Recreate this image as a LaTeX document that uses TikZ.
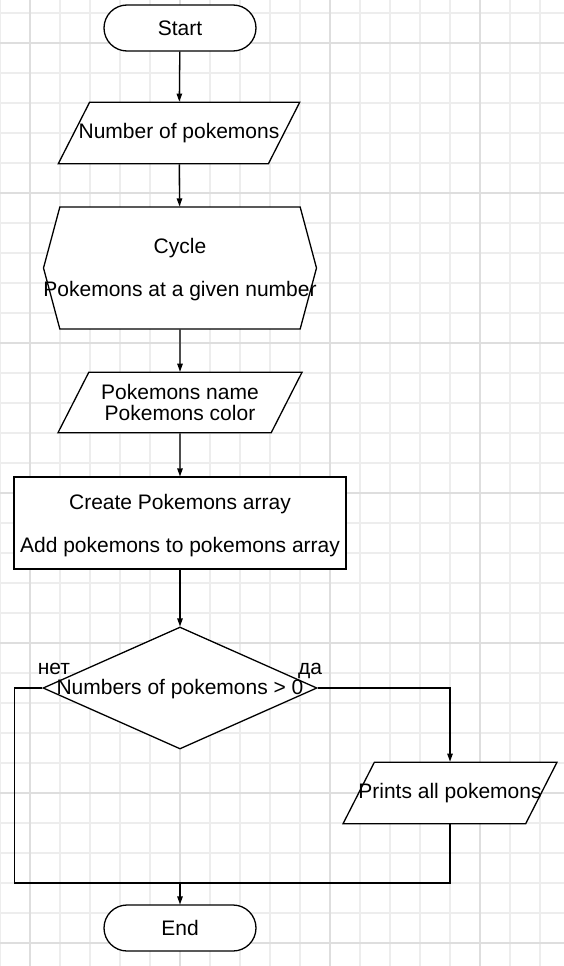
\documentclass[tikz,border=0pt]{standalone}
\usepackage{fontspec}
\setmainfont{Liberation Sans}
\usetikzlibrary{shapes,arrows.meta,positioning,calc}

\tikzset{
    gridminor/.style={line width=1.2pt, color=black!7},
    gridmajor/.style={line width=1.2pt, color=black!13},
    terminal/.style={draw, fill=white, line width=1.3pt, rounded corners=23pt,
        minimum width=152pt, minimum height=46pt, inner sep=0pt},
    io/.style={draw, fill=white, line width=1.3pt, shape=trapezium,
        trapezium left angle=63, trapezium right angle=117,
        trapezium stretches body=true, inner xsep=0pt, inner ysep=21pt},
    loopbox/.style={draw, fill=white, line width=1.3pt, shape=signal,
        signal to=west and east, signal pointer angle=150,
        minimum width=273pt, minimum height=122pt, inner sep=0pt},
    process/.style={draw, fill=white, line width=1.3pt, rectangle,
        minimum width=332pt, minimum height=92pt, inner sep=0pt, align=center},
    decision/.style={draw, fill=white, line width=1.3pt, diamond,
        minimum width=274pt, minimum height=122pt, inner sep=0pt},
    flow/.style={line width=1.3pt},
    arr/.style={flow, -{Triangle[length=8pt,width=5.5pt]}}
}

\begin{document}
\begin{tikzpicture}[x=1pt, y=-1pt, font=\fontsize{21}{21}\selectfont]
    % Background and grid
    \useasboundingbox (0,0) rectangle (564,966);
    \fill[white] (0,0) rectangle (564,966);
    \foreach \x in {0,30,...,540}
        \draw[gridminor] (\x,0) -- (\x,966);
    \foreach \y in {13,43,...,943}
        \draw[gridminor] (0,\y) -- (564,\y);
    \foreach \x in {30,180,330,480}
        \draw[gridmajor] (\x,0) -- (\x,966);
    \foreach \y in {43,193,...,943}
        \draw[gridmajor] (0,\y) -- (564,\y);

    % Blocks
    \node[terminal] (start) at (180,28) {Start};
    \node[io, inner xsep=-11pt] (count) at (179,133) {Number of pokemons};
    \node[loopbox] (cycle) at (180,268) {};
    \node[align=center] (cycle-text) at (180,269.5) {Cycle\\[22pt]Pokemons at a given number};
    \node[io, minimum width=244pt, inner ysep=12pt, align=center] (read) at (180,402.5)
        {Pokemons name\\Pokemons color};
    \node[process] (create) at (180,523)
        {\rule{0pt}{21pt}Create Pokemons array\\[22pt]Add pokemons to pokemons array};
    \node[decision] (check) at (180,688) {};
    \node (check-text) at (180,689) {Numbers of pokemons > 0};
    \node[io, inner xsep=-16pt] (print) at (450,793) {Prints all pokemons};
    \node[terminal] (stop) at (180,928) {End};

    % Branch labels
    \node[anchor=base] (no) at (54,674) {нет};
    \node[anchor=base] (yes) at (310,674) {да};

    % Connectors
    \draw[arr] (start) -- (count);
    \draw[arr] (count) -- (cycle);
    \draw[arr] (cycle) -- (read);
    \draw[arr] (read) -- (create);
    \draw[arr] (create) -- (check);
    \draw[arr] (check.east) -| (print.north);
    \coordinate (join) at (180,883);
    \draw[flow] (check.west) -- ++(-28,0) |- (join);
    \draw[flow] (print.south) |- (join);
    \draw[arr] (join) -- (stop);
\end{tikzpicture}
\end{document}
